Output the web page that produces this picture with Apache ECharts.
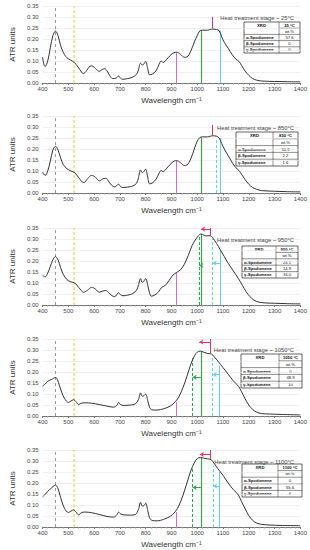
<!DOCTYPE html>
<html><head><meta charset="utf-8">
<script src="https://cdn.jsdelivr.net/npm/echarts@6/dist/echarts.min.js"></script>
<style>html,body{margin:0;padding:0;background:#fff}#c{width:310px;height:550px}</style>
</head><body><div id="c"></div>
<script>
// ---------------- DATA ----------------
const stages = ['25°C', '850°C', '950°C', '1050°C', '1100°C'];
const tableTemps = ['25 °C', '850 °C', '950 °C', '1050 °C', '1100 °C'];
const xrdAlpha = ['57.6', '50.9', '24.1', '0', '0'];
const xrdBeta = ['0', '2.2', '14.9', '48.9', '55.6'];
const xrdGamma = ['0', '1.6', '16.0', '10', '0'];
const xTicks = { min: 400, max: 1400, step: 100 };
const yTicks = { min: 0, max: 0.35, step: 0.05 };

const spectrum25 = [[400,0.118],[405,0.085],[410,0.075],[420,0.1],[430,0.16],[440,0.215],[450,0.236],[460,0.215],[470,0.17],[480,0.14],[490,0.12],[500,0.11],[515,0.1],[530,0.085],[545,0.06],[558,0.043],[570,0.055],[580,0.072],[590,0.078],[600,0.072],[610,0.06],[620,0.053],[632,0.062],[641,0.065],[650,0.055],[660,0.035],[672,0.02],[685,0.022],[695,0.032],[702,0.022],[710,0.017],[730,0.02],[750,0.027],[765,0.04],[772,0.06],[780,0.09],[787,0.082],[792,0.085],[800,0.098],[807,0.07],[815,0.038],[825,0.04],[840,0.055],[852,0.085],[860,0.1],[868,0.093],[880,0.105],[895,0.125],[910,0.138],[920,0.14],[935,0.13],[950,0.117],[960,0.118],[975,0.145],[990,0.19],[1000,0.215],[1010,0.237],[1020,0.24],[1040,0.24],[1050,0.243],[1060,0.245],[1075,0.243],[1085,0.238],[1095,0.21],[1105,0.185],[1120,0.158],[1135,0.13],[1150,0.108],[1162,0.098],[1172,0.08],[1185,0.055],[1200,0.035],[1215,0.02],[1230,0.013],[1250,0.009],[1300,0.007],[1350,0.006],[1400,0.005]];
const spectrum850 = [[400,0.095],[405,0.085],[410,0.08],[420,0.1],[430,0.145],[440,0.195],[450,0.212],[460,0.195],[470,0.16],[480,0.13],[495,0.11],[510,0.1],[525,0.092],[540,0.07],[560,0.047],[575,0.065],[590,0.08],[605,0.072],[620,0.055],[632,0.063],[645,0.067],[655,0.055],[668,0.035],[680,0.028],[695,0.04],[702,0.03],[710,0.025],[730,0.027],[750,0.032],[765,0.045],[772,0.07],[780,0.105],[787,0.092],[792,0.097],[800,0.108],[807,0.078],[815,0.042],[825,0.045],[840,0.062],[852,0.09],[860,0.102],[868,0.097],[880,0.11],[895,0.13],[910,0.145],[920,0.147],[935,0.138],[950,0.125],[960,0.127],[975,0.155],[990,0.205],[1000,0.235],[1010,0.252],[1020,0.255],[1040,0.255],[1050,0.258],[1060,0.26],[1075,0.258],[1085,0.25],[1095,0.225],[1105,0.2],[1120,0.17],[1135,0.14],[1150,0.115],[1162,0.102],[1172,0.085],[1185,0.062],[1200,0.04],[1215,0.025],[1230,0.017],[1250,0.011],[1300,0.008],[1350,0.006],[1400,0.005]];
const spectrum950 = [[400,0.135],[410,0.128],[420,0.145],[430,0.175],[440,0.205],[450,0.22],[460,0.205],[470,0.17],[480,0.14],[495,0.115],[510,0.105],[525,0.1],[540,0.08],[560,0.058],[575,0.068],[590,0.08],[605,0.073],[620,0.058],[632,0.063],[645,0.066],[655,0.058],[668,0.043],[680,0.038],[695,0.056],[702,0.047],[712,0.042],[730,0.045],[750,0.052],[765,0.068],[772,0.09],[780,0.12],[787,0.103],[792,0.107],[800,0.12],[808,0.09],[815,0.055],[822,0.04],[835,0.045],[850,0.06],[862,0.08],[875,0.088],[890,0.11],[905,0.135],[920,0.148],[935,0.16],[950,0.185],[965,0.225],[980,0.27],[995,0.3],[1005,0.315],[1015,0.323],[1025,0.318],[1035,0.314],[1050,0.315],[1060,0.305],[1075,0.28],[1090,0.25],[1105,0.22],[1120,0.19],[1140,0.155],[1160,0.12],[1175,0.09],[1190,0.06],[1205,0.038],[1220,0.022],[1240,0.013],[1270,0.009],[1300,0.008],[1350,0.006],[1400,0.005]];
const spectrum1050 = [[400,0.137],[410,0.145],[420,0.158],[435,0.166],[450,0.175],[458,0.165],[465,0.14],[475,0.105],[485,0.08],[500,0.062],[510,0.068],[520,0.074],[530,0.065],[540,0.052],[550,0.058],[565,0.06],[590,0.058],[620,0.052],[650,0.045],[675,0.04],[688,0.048],[695,0.062],[702,0.052],[715,0.048],[740,0.05],[760,0.055],[772,0.075],[780,0.105],[787,0.09],[793,0.092],[800,0.099],[808,0.07],[815,0.04],[825,0.028],[845,0.027],[870,0.033],[895,0.045],[915,0.065],[930,0.09],[945,0.13],[960,0.18],[975,0.235],[990,0.275],[1000,0.29],[1012,0.295],[1025,0.29],[1040,0.284],[1055,0.282],[1065,0.27],[1080,0.25],[1100,0.22],[1120,0.19],[1140,0.16],[1160,0.135],[1172,0.11],[1185,0.08],[1200,0.05],[1215,0.03],[1230,0.018],[1250,0.011],[1280,0.009],[1330,0.007],[1400,0.005]];
const spectrum1100 = [[400,0.137],[410,0.148],[420,0.162],[435,0.178],[450,0.19],[458,0.18],[465,0.155],[475,0.115],[485,0.085],[500,0.066],[510,0.072],[520,0.078],[530,0.068],[540,0.055],[550,0.065],[565,0.068],[590,0.065],[620,0.057],[650,0.048],[675,0.045],[688,0.055],[695,0.068],[702,0.06],[715,0.055],[740,0.054],[760,0.057],[772,0.08],[780,0.112],[787,0.095],[793,0.097],[800,0.108],[808,0.075],[815,0.042],[825,0.03],[845,0.028],[870,0.035],[895,0.048],[915,0.07],[930,0.1],[945,0.145],[960,0.2],[975,0.255],[990,0.295],[1000,0.31],[1012,0.316],[1025,0.313],[1040,0.31],[1055,0.305],[1065,0.29],[1080,0.265],[1100,0.235],[1120,0.2],[1140,0.17],[1160,0.145],[1172,0.115],[1185,0.085],[1200,0.052],[1215,0.03],[1230,0.018],[1250,0.012],[1280,0.009],[1330,0.007],[1400,0.006]];
const spectra = [spectrum25, spectrum850, spectrum950, spectrum1050, spectrum1100];

// reference band positions (cm-1)
const refBands = [450, 520];
const band920 = [920, 920, 920, 920, 920];
const band920Top = [0.14, 0.147, 0.148, 0.063, 0.068];
const band1015 = [1015, 1015, 1015, 1014, 1014];
const band1015Top = [0.238, 0.252, 0.322, 0.294, 0.316];
const band1088 = [1088, 1088, 1090, 1087, 1087];
const band1088Top = [0.238, 0.25, 0.245, 0.23, 0.25];
const shiftGreen = [null, null, 1008, 982, 982];
const shiftGreenTop = [null, null, 0.31, 0.265, 0.27];
const shiftCyan = [null, 1072, 1060, 1060, 1062];
const shiftCyanTop = [null, 0.24, 0.30, 0.27, 0.28];
const maxBand = [1058, 1060, 1050, 1050, 1050];
const maxBandRange = [[0.248, 0.30], [0.262, 0.31], [0.316, 0.35], [0.285, 0.35], [0.31, 0.35]];
const maxShiftTo = [null, null, 1015, 1008, 1010];
const maxShiftY = [null, null, 0.345, 0.336, 0.33];
const greenShiftY = [null, null, 0.18, 0.176, 0.179];
const cyanShiftY = [null, null, 0.19, 0.188, 0.186];

// ---------------- LAYOUT ----------------
const gridTops = [6, 116, 228, 339, 450];
const gridH = 77;
const titleTops = [10, 120, 232, 342, 454];
const tableBoxes = [[244, 22, 56, 31, 35], [236, 132, 62, 34, 37], [242, 246, 56, 32, 34], [241, 354, 61, 34, 38], [242, 464, 60, 33, 36]];

const C = { gray: '#9a9a9a', yellow: '#f6dc7c', magenta: '#d46ad0', green: '#2ea84a', cyan: '#66d2de', red: '#e8345a' };

function seg(x0, y0, x1, y1, color, type, endSymbol, width) {
  return [
    { coord: [x0, y0], symbol: 'none', lineStyle: { color: color, type: type || 'solid', width: width || 1 } },
    { coord: [x1, y1], symbol: endSymbol || 'none', symbolSize: 4 }
  ];
}

const grids = [], xAxes = [], yAxes = [], series = [], titles = [], graphics = [];
for (let i = 0; i < 5; i++) {
  grids.push({ left: 32, right: 8, top: gridTops[i], height: gridH });
  xAxes.push({
    type: 'value', gridIndex: i, min: xTicks.min, max: xTicks.max, interval: xTicks.step,
    name: 'Wavelength cm\u207B\u00B9', nameLocation: 'middle', nameGap: 13,
    nameTextStyle: { fontSize: 8, color: '#333', fontFamily: 'Liberation Sans' },
    axisLine: { lineStyle: { color: '#555', width: 0.8 } },
    axisTick: { show: true, length: 2, lineStyle: { color: '#777' } },
    minorTick: { show: true, splitNumber: 5, length: 1.5, lineStyle: { color: '#999' } },
    axisLabel: { fontSize: 6, color: '#444', margin: 3, formatter: v => String(v), fontFamily: 'Liberation Sans' },
    splitLine: { show: false }
  });
  yAxes.push({
    type: 'value', gridIndex: i, min: yTicks.min, max: yTicks.max, interval: yTicks.step,
    name: 'ATR units', nameLocation: 'middle', nameGap: 19,
    nameTextStyle: { fontSize: 8, color: '#333', fontFamily: 'Liberation Sans' },
    axisLine: { show: false }, axisTick: { show: false },
    axisLabel: { fontSize: 6, color: '#444', margin: 4, formatter: v => v.toFixed(2), fontFamily: 'Liberation Sans' },
    splitLine: { show: true, lineStyle: { color: '#e6e6e6', width: 0.6 } }
  });
  const ml = [];
  ml.push(seg(refBands[0], 0, refBands[0], 0.35, C.gray, [3, 3]));
  ml.push(seg(refBands[1], 0, refBands[1], 0.35, C.yellow, [3, 2], null, 1.6));
  ml.push(seg(band920[i], 0, band920[i], band920Top[i], C.magenta));
  ml.push(seg(band1015[i], 0, band1015[i], band1015Top[i], C.green, 'solid', null, 1.2));
  ml.push(seg(band1088[i], 0, band1088[i], band1088Top[i], C.cyan));
  if (shiftGreen[i] !== null) ml.push(seg(shiftGreen[i], 0, shiftGreen[i], shiftGreenTop[i], C.green, [3, 2]));
  if (shiftCyan[i] !== null) ml.push(seg(shiftCyan[i], 0, shiftCyan[i], shiftCyanTop[i], C.cyan, [3, 2]));
  ml.push(seg(maxBand[i], maxBandRange[i][0], maxBand[i], maxBandRange[i][1], C.red));
  if (maxShiftTo[i] !== null) ml.push(seg(maxBand[i], maxShiftY[i], maxShiftTo[i], maxShiftY[i], C.red, 'solid', 'arrow'));
  if (greenShiftY[i] !== null) ml.push(seg(band1015[i], greenShiftY[i], shiftGreen[i], greenShiftY[i], C.green, 'solid', 'arrow'));
  if (cyanShiftY[i] !== null) ml.push(seg(band1088[i], cyanShiftY[i], shiftCyan[i], cyanShiftY[i], C.cyan, 'solid', 'arrow'));

  series.push({
    type: 'line', xAxisIndex: i, yAxisIndex: i, data: spectra[i], smooth: 0.35,
    showSymbol: false, lineStyle: { color: '#333', width: 1 }, z: 5,
    markLine: { silent: true, animation: false, label: { show: false }, symbol: 'none', data: ml, z: 3 }
  });
  titles.push({
    text: 'Heat treatment stage ~ ' + stages[i], right: 11, top: titleTops[i],
    textStyle: { fontSize: 5.8, fontWeight: 'normal', color: '#444', fontFamily: 'Liberation Sans' }
  });
  // XRD table
  const [tx, ty, tw, th, c1] = tableBoxes[i];
  const rh = th / 5;
  const rows = [['XRD', tableTemps[i]], ['', 'wt.%'], ['\u03B1-Spodumene', xrdAlpha[i]], ['\u03B2-Spodumene', xrdBeta[i]], ['\u03B3-Spodumene', xrdGamma[i]]];
  const ch = [];
  ch.push({ type: 'rect', shape: { x: 0, y: 0, width: tw, height: th }, style: { fill: '#fff', stroke: '#222', lineWidth: 0.7 } });
  ch.push({ type: 'line', shape: { x1: c1, y1: 0, x2: c1, y2: th }, style: { stroke: '#222', lineWidth: 0.5 } });
  for (let r = 1; r < 5; r++) {
    ch.push({ type: 'line', shape: { x1: r === 1 ? c1 : 0, y1: rh * r, x2: tw, y2: rh * r }, style: { stroke: '#222', lineWidth: 0.5 } });
  }
  rows.forEach((row, r) => {
    ch.push({ type: 'text', x: r === 0 ? c1 / 2 : 2, y: rh * r + rh / 2, style: { text: row[0], fontSize: 4.2, fontWeight: 'bold', fill: '#111', align: r === 0 ? 'center' : 'left', verticalAlign: 'middle', fontFamily: 'Liberation Sans' } });
    ch.push({ type: 'text', x: (c1 + tw) / 2, y: rh * r + rh / 2, style: { text: row[1], fontSize: 4.2, fontWeight: r === 0 ? 'bold' : 'normal', fill: '#111', align: 'center', verticalAlign: 'middle', fontFamily: 'Liberation Sans' } });
  });
  graphics.push({ type: 'group', x: tx, y: ty, z: 100, children: ch });
}

const chart = echarts.init(document.getElementById('c'), null, { renderer: 'svg', width: 310, height: 550 });
chart.setOption({
  animation: false, backgroundColor: '#fff',
  title: titles, grid: grids, xAxis: xAxes, yAxis: yAxes, series: series, graphic: graphics
});
</script></body></html>
